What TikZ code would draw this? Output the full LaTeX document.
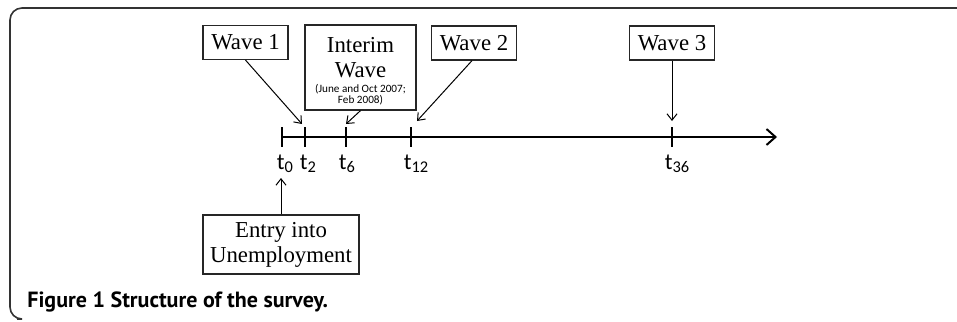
\documentclass[tikz,border=0pt]{standalone}
\usepackage{fontspec}
\setmainfont{Liberation Serif}
\newfontfamily\calfont{Carlito}
\newfontfamily\capfont{PT Sans}
\usetikzlibrary{arrows.meta}
\newcommand{\tlab}[2]{{\calfont\fontsize{11.5}{13}\selectfont #1\raisebox{-1.8pt}{\fontsize{8.2}{9}\selectfont #2}}}
\newcommand{\smallcal}{\calfont\fontsize{5.6}{6}\selectfont}
\begin{document}
\begin{tikzpicture}[x=0.5pt,y=-0.5pt,
  wavebox/.style={draw=black!85, line width=0.6pt, inner sep=0pt, align=center,
    font=\fontsize{11.4}{12.5}\selectfont},
  conn/.style={line width=0.5pt, -{Straight Barb[length=3.2pt,width=5pt,line width=0.5pt]}},
  tick/.style={line width=1pt},
  tl/.style={anchor=base, inner sep=0pt}]
\useasboundingbox (0,0) rectangle (957,321);
% frame
\draw[black!80, line width=0.8pt, rounded corners=6pt] (957,8) -- (10,8) -- (10,319) -- (17,319);
% boxes
\node[wavebox, minimum width=42.5pt, minimum height=17pt] (w1) at (245.5,42.5) {Wave 1};
\node[wavebox, minimum width=55.5pt, minimum height=42.5pt] (iw) at (360.5,67.5)
  {\rule{0pt}{11pt}Interim\\Wave\\[-5pt]{\smallcal (June and Oct 2007;}\\[-7.2pt]{\smallcal Feb 2008)}};
\node[wavebox, minimum width=42.3pt, minimum height=17pt] (w2) at (474,43) {Wave 2};
\node[wavebox, minimum width=42.8pt, minimum height=17pt] (w3) at (672,43) {Wave 3};
\node[wavebox, minimum width=78pt, minimum height=29.5pt] (en) at (281,244.5) {Entry into\\Unemployment};
% timeline
\coordinate (s) at (282,137);
\coordinate (e) at (777,137);
\draw[line width=1pt, -{Straight Barb[length=4.5pt,width=8pt,line width=1pt]}] (s) -- (e);
\foreach \x in {282,305,346,411,672} \draw[tick] (\x,127) -- (\x,147);
% tick labels
\node[tl] (l0) at (285,169) {\tlab{t}{0}};
\node[tl] (l2) at (308,169) {\tlab{t}{2}};
\node[tl] (l6) at (347,169) {\tlab{t}{6}};
\node[tl] (l12) at (416,169) {\tlab{t}{12}};
\node[tl] (l36) at (677,169) {\tlab{t}{36}};
% arrow targets
\coordinate (a1) at (302,124);
\coordinate (ai) at (346,124);
\coordinate (a2) at (417,121);
\coordinate (a3) at (672,121);
\coordinate (a0) at (281,178);
\draw[conn] (w1.south) -- (a1);
\draw[conn] (iw.south) -- (ai);
\draw[conn] ([xshift=-1pt]w2.south) -- (a2);
\draw[conn] (w3.south) -- (a3);
\draw[conn] (en.north) -- (a0);
% caption
\node[anchor=base west, inner sep=0pt, font=\capfont\bfseries\fontsize{11}{13}\selectfont] (cap) at (27,307) {Figure 1 Structure of the survey.};
\end{tikzpicture}
\end{document}
